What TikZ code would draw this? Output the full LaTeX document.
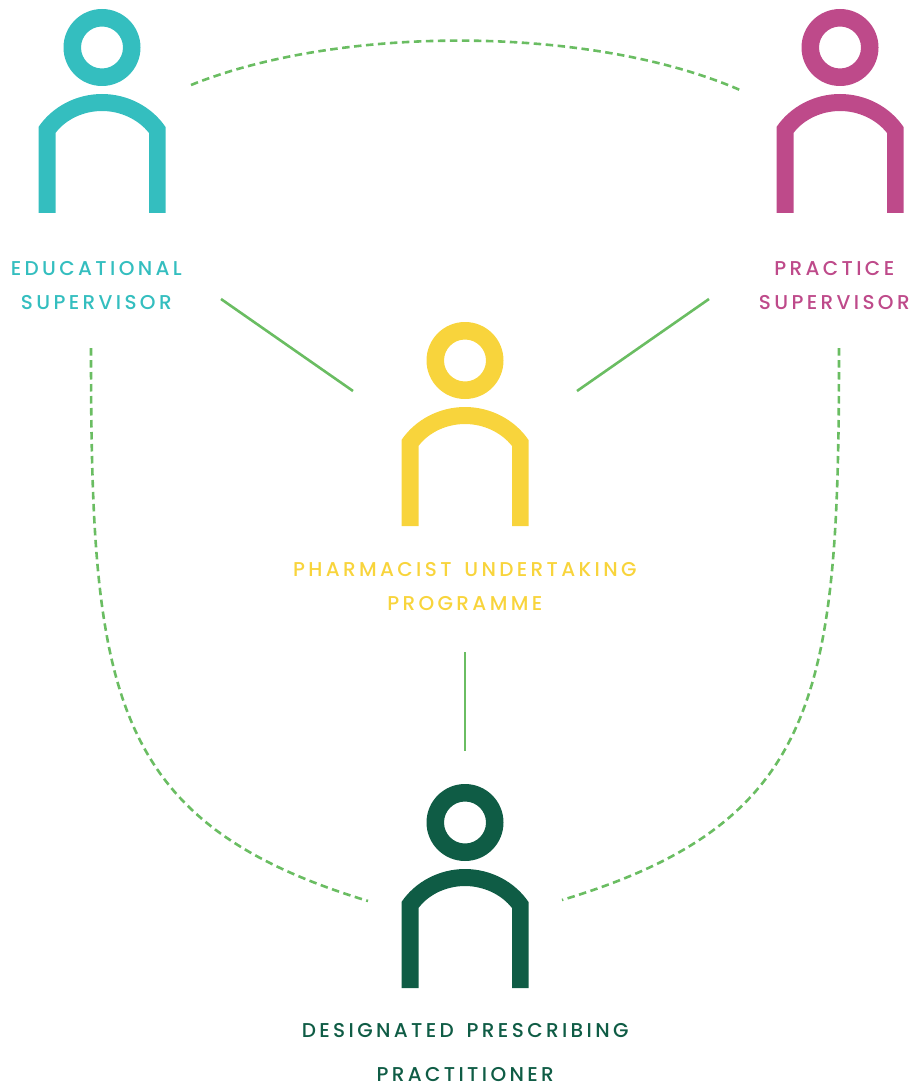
\documentclass[tikz,border=0pt]{standalone}
\usepackage{fontspec}
\setmainfont{Poppins Medium}[LetterSpace=16.8,WordSpace=1.5]
\definecolor{cteal}{HTML}{34BEBF}
\definecolor{cmag}{HTML}{BE4A8A}
\definecolor{cyel}{HTML}{F8D43C}
\definecolor{cdark}{HTML}{0F5C45}
\definecolor{cline}{HTML}{6ABD62}
\tikzset{
  person/.pic={
    \fill[even odd rule,pic actions] (102,47.5) circle[radius=38.5] (102,47.5) circle[radius=21];
    \fill[pic actions] (38.5,213) -- (38.5,127) .. controls (52,107) and (76,94) .. (102,94)
      .. controls (128,94) and (152,107) .. (165.5,127) -- (165.5,213) -- (149,213) -- (149,133)
      .. controls (138,119) and (120,111) .. (102,111)
      .. controls (84,111) and (66,119) .. (55.5,133) -- (55.5,213) -- cycle;
  },
  lab/.style={align=center,inner sep=0pt,font=\fontsize{20}{34}\selectfont},
  solidlink/.style={draw=cline,line width=2.6pt},
  dashlink/.style={draw=cline,line width=2.6pt,dash pattern=on 7.5pt off 4.5pt},
}
\begin{document}
\begin{tikzpicture}[x=1pt,y=-1pt]
\useasboundingbox (0,0) rectangle (913,1083);
\pic[fill=cteal] at (0,0) {person};
\pic[fill=cmag] at (738,0) {person};
\pic[fill=cyel] at (363,313) {person};
\pic[fill=cdark] at (363,775) {person};
\node[lab,text=cteal] (edu) at (96.3,285.5) {EDUCATIONAL\\SUPERVISOR};
\node[lab,text=cmag] (prac) at (834.3,285.5) {PRACTICE\\SUPERVISOR};
\node[lab,text=cyel] (pharm) at (464.8,586.5) {PHARMACIST UNDERTAKING\\PROGRAMME};
\node[lab,text=cdark,font=\fontsize{20}{44}\selectfont,text depth=0pt,anchor=south] (dpp) at (465.2,1081.8) {DESIGNATED PRESCRIBING\\PRACTITIONER};
\coordinate (a1) at (191,85); \coordinate (a2) at (740,90);
\coordinate (b1) at (221,299); \coordinate (b2) at (353,391);
\coordinate (c1) at (709,299); \coordinate (c2) at (577,391);
\coordinate (d1) at (465,652); \coordinate (d2) at (465,751);
\coordinate (e1) at (91,348); \coordinate (e2) at (368,901);
\coordinate (f1) at (839,348); \coordinate (f2) at (562,900);
\draw[dashlink] (a1) .. controls (340,25) and (590,25) .. (a2);
\draw[solidlink] (b1) -- (b2);
\draw[solidlink] (c1) -- (c2);
\draw[solidlink] (d1) -- (d2);
\draw[dashlink] (e1) .. controls (91,690) and (108,822) .. (e2);
\draw[dashlink] (f1) .. controls (839,690) and (822,822) .. (f2);
\end{tikzpicture}
\end{document}
